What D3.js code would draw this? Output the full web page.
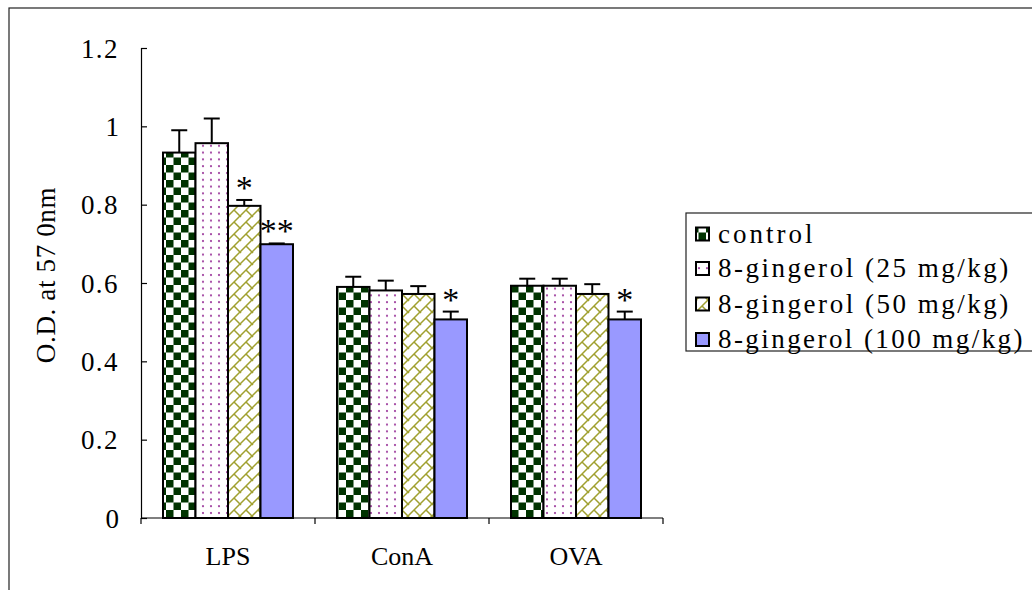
<!DOCTYPE html>
<html>
<head>
<meta charset="utf-8">
<script src="https://cdn.jsdelivr.net/npm/d3@7"></script>
<style>
  html, body { margin: 0; padding: 0; background: #fff; }
  svg { display: block; }
  text { font-family: "Liberation Serif", "DejaVu Serif", serif; fill: #000; }
</style>
</head>
<body>
<svg id="chart" width="1032" height="590"></svg>
<script>
// Stimulants on the x axis, treatment groups as the bar series
const categories = ["LPS", "ConA", "OVA"];
const seriesNames = ["control", "8-gingerol (25 mg/kg)", "8-gingerol (50 mg/kg)", "8-gingerol (100 mg/kg)"];

// Mean optical density per stimulant, one array per group
const controlValues = [0.933, 0.590, 0.593];
const dose25Values  = [0.957, 0.581, 0.593];
const dose50Values  = [0.797, 0.572, 0.572];
const dose100Values = [0.699, 0.507, 0.507];

// Upper error (SD) per stimulant
const controlErrors = [0.057, 0.026, 0.018];
const dose25Errors  = [0.063, 0.025, 0.018];
const dose50Errors  = [0.015, 0.020, 0.025];
const dose100Errors = [0.002, 0.020, 0.020];

// Significance marks versus control
const controlSig = ["", "", ""];
const dose25Sig  = ["", "", ""];
const dose50Sig  = ["*", "", ""];
const dose100Sig = ["**", "*", "*"];

const yTicks = [0, 0.2, 0.4, 0.6, 0.8, 1, 1.2];
const yLabel = "O.D. at 57 0nm";

const seriesValues = [controlValues, dose25Values, dose50Values, dose100Values];
const seriesErrors = [controlErrors, dose25Errors, dose50Errors, dose100Errors];
const seriesSig = [controlSig, dose25Sig, dose50Sig, dose100Sig];

const svg = d3.select("#chart");

// Spread a text's glyphs so it reads like a fixed-pitch face (never squeezes)
function pitch(sel, perChar) {
  sel.each(function () {
    const node = this;
    const n = node.textContent.length;
    const natural = node.getComputedTextLength();
    const ls = Math.max(0, (perChar * n - natural) / n);
    d3.select(node).attr("letter-spacing", ls.toFixed(2));
  });
}

// Hatch patterns for each group
const defs = svg.append("defs");

const check = defs.append("pattern").attr("id", "p-check")
  .attr("patternUnits", "userSpaceOnUse").attr("width", 15).attr("height", 15)
  .attr("x", 1).attr("y", 0);
check.append("rect").attr("width", 15).attr("height", 15).attr("fill", "#fff");
check.append("rect").attr("x", 0).attr("y", 0).attr("width", 7.5).attr("height", 7.5).attr("fill", "#003300");
check.append("rect").attr("x", 7.5).attr("y", 7.5).attr("width", 7.5).attr("height", 7.5).attr("fill", "#003300");

const dots = defs.append("pattern").attr("id", "p-dots")
  .attr("patternUnits", "userSpaceOnUse").attr("width", 8).attr("height", 6.8);
dots.append("rect").attr("width", 8).attr("height", 6.8).attr("fill", "#fff");
dots.append("circle").attr("cx", 3).attr("cy", 3).attr("r", 1.1).attr("fill", "#993399");

const T = 12;
const brick = defs.append("pattern").attr("id", "p-brick")
  .attr("patternUnits", "userSpaceOnUse").attr("width", T).attr("height", T);
brick.append("rect").attr("width", T).attr("height", T).attr("fill", "#fff");
brick.append("path")
  .attr("d", `M-2,${T + 2} L${T + 2},-2 M${T / 2},${T / 2} L${T + 1},${T + 1} M-1,-1 L1,1`)
  .attr("stroke", "#a0a030").attr("stroke-width", 1.5).attr("fill", "none");

const fills = ["url(#p-check)", "url(#p-dots)", "url(#p-brick)", "#9999ff"];

// Frame around the whole figure
svg.append("rect").attr("x", 9).attr("y", 8).attr("width", 1040).attr("height", 600)
  .attr("fill", "none").attr("stroke", "#222").attr("stroke-width", 1.2);

// Scales
const y = d3.scaleLinear().domain([0, 1.2]).range([518, 48]);
const x0 = d3.scaleBand().domain(categories).range([141, 663]);
const x1 = d3.scaleBand().domain(seriesNames).range([22, x0.bandwidth() - 22]);

// Y axis with inward ticks
const yAxis = svg.append("g").attr("transform", "translate(141,0)")
  .call(d3.axisLeft(y).tickValues(yTicks).tickSize(-6).tickPadding(22)
    .tickFormat(d => d === 0 ? "0" : (d === 1 ? "1" : d3.format(".1f")(d))));
yAxis.select(".domain").attr("stroke", "#000").attr("stroke-width", 1.2);
yAxis.selectAll(".tick line").attr("stroke", "#000").attr("stroke-width", 1.2);
yAxis.selectAll(".tick text").attr("font-size", 27)
  .attr("font-family", "Liberation Serif").attr("fill", "#000").attr("dy", "0.34em")
  .call(pitch, 12.7);

// X axis with ticks at category boundaries
const xAxisG = svg.append("g");
xAxisG.append("line").attr("x1", 141).attr("x2", 663).attr("y1", 518).attr("y2", 518)
  .attr("stroke", "#000").attr("stroke-width", 1.2);
const boundaries = categories.map(c => x0(c)).concat([x0(categories[categories.length - 1]) + x0.step()]);
xAxisG.selectAll("line.b").data(boundaries).join("line").attr("class", "b")
  .attr("x1", d => d).attr("x2", d => d).attr("y1", 518).attr("y2", 524)
  .attr("stroke", "#000").attr("stroke-width", 1.2);
xAxisG.selectAll("text").data(categories).join("text")
  .attr("x", d => x0(d) + x0.bandwidth() / 2).attr("y", 565)
  .attr("text-anchor", "middle").attr("font-size", 26).text(d => d);

// Y axis title
svg.append("text")
  .attr("transform", "translate(55,275) rotate(-90)")
  .attr("text-anchor", "middle").attr("font-size", 27).text(yLabel)
  .call(pitch, 12.6);

// Bars
const rows = [];
seriesNames.forEach((s, si) => {
  categories.forEach((c, ci) => {
    rows.push({ s, si, c, v: seriesValues[si][ci], e: seriesErrors[si][ci], sig: seriesSig[si][ci] });
  });
});

const cx = d => x0(d.c) + x1(d.s) + x1.bandwidth() / 2;
const barG = svg.append("g");
// error bars first so bar outlines sit on top
barG.selectAll("line.err").data(rows).join("line").attr("class", "err")
  .attr("x1", cx).attr("x2", cx)
  .attr("y1", d => y(d.v)).attr("y2", d => y(d.v + d.e))
  .attr("stroke", "#000").attr("stroke-width", 2);
barG.selectAll("line.cap").data(rows).join("line").attr("class", "cap")
  .attr("x1", d => cx(d) - 8).attr("x2", d => cx(d) + 8)
  .attr("y1", d => y(d.v + d.e)).attr("y2", d => y(d.v + d.e))
  .attr("stroke", "#000").attr("stroke-width", 2);

barG.selectAll("rect.bar").data(rows).join("rect").attr("class", "bar")
  .attr("x", d => x0(d.c) + x1(d.s))
  .attr("y", d => y(d.v))
  .attr("width", x1.bandwidth())
  .attr("height", d => y(0) - y(d.v))
  .attr("fill", d => fills[d.si])
  .attr("stroke", "#000").attr("stroke-width", 2);

// Significance marks
barG.selectAll("text.sig").data(rows.filter(d => d.sig)).join("text").attr("class", "sig")
  .attr("x", d => cx(d))
  .attr("y", d => y(d.v + d.e) - 1)
  .attr("text-anchor", "middle").attr("font-size", 34).text(d => d.sig);

// Legend
const lg = svg.append("g");
lg.append("rect").attr("x", 686).attr("y", 213).attr("width", 360).attr("height", 138)
  .attr("fill", "#fff").attr("stroke", "#222").attr("stroke-width", 1.2);
const rowY = [234, 268.5, 304, 339.5];
seriesNames.forEach((s, i) => {
  lg.append("rect").attr("x", 696).attr("y", rowY[i] - 6.5).attr("width", 13).attr("height", 13)
    .attr("fill", fills[i]).attr("stroke", "#000").attr("stroke-width", 2);
  lg.append("text").attr("x", 718).attr("y", rowY[i]).attr("dy", "0.33em")
    .attr("font-size", 27).text(s)
    .call(pitch, 13.95);
});
</script>
</body>
</html>
